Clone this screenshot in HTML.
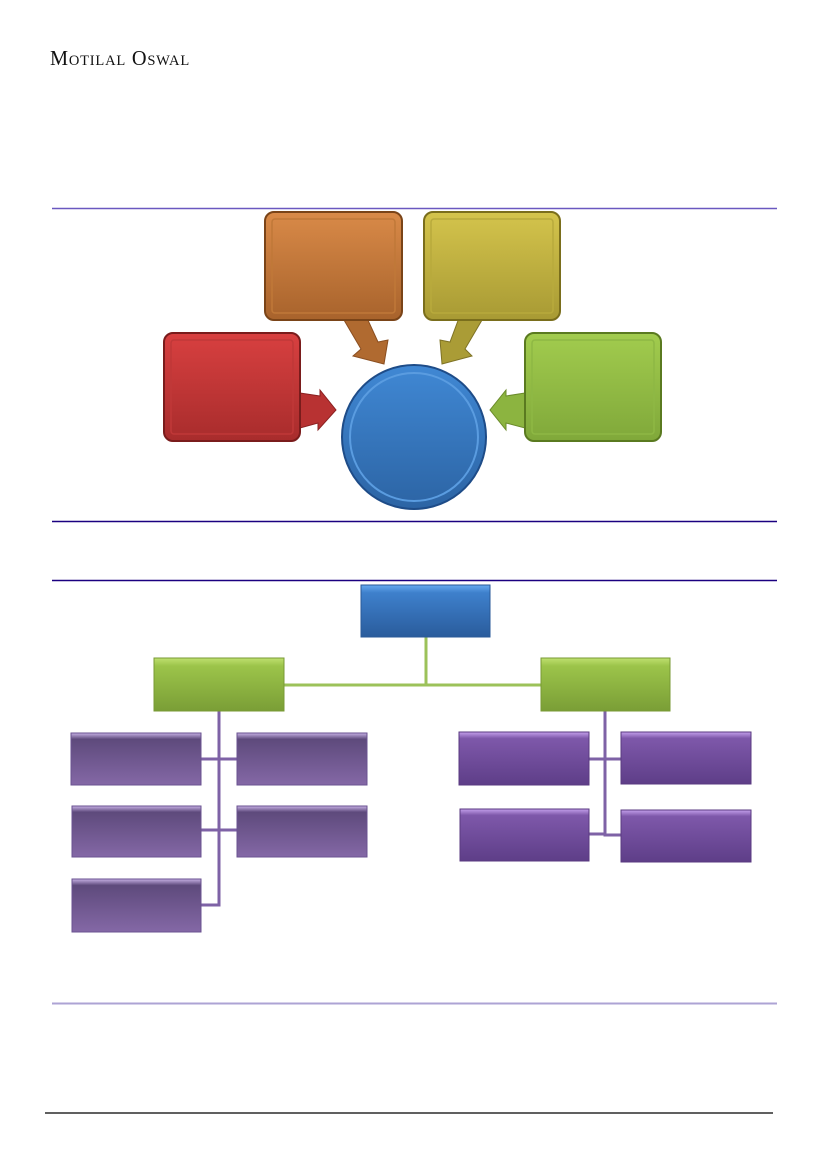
<!DOCTYPE html>
<html><head><meta charset="utf-8"><style>
html,body{margin:0;padding:0;background:#fff;}
svg{display:block;}
</style></head><body>
<svg width="827" height="1169" viewBox="0 0 827 1169" xmlns="http://www.w3.org/2000/svg">
<defs>
<linearGradient id="gO" x1="0" y1="0" x2="0" y2="1"><stop offset="0" stop-color="#d98a48"/><stop offset="1" stop-color="#a8632c"/></linearGradient>
<linearGradient id="gY" x1="0" y1="0" x2="0" y2="1"><stop offset="0" stop-color="#d4c44c"/><stop offset="1" stop-color="#a89a34"/></linearGradient>
<linearGradient id="gR" x1="0" y1="0" x2="0" y2="1"><stop offset="0" stop-color="#d84040"/><stop offset="1" stop-color="#a82c2c"/></linearGradient>
<linearGradient id="gG" x1="0" y1="0" x2="0" y2="1"><stop offset="0" stop-color="#a2cc4e"/><stop offset="1" stop-color="#80a83a"/></linearGradient>
<linearGradient id="gB" x1="0" y1="0" x2="0" y2="1"><stop offset="0" stop-color="#4088d4"/><stop offset="1" stop-color="#2c64a4"/></linearGradient>
<linearGradient id="gB2" x1="0" y1="0" x2="0" y2="1"><stop offset="0" stop-color="#66aaf0"/><stop offset="0.15" stop-color="#3e80cc"/><stop offset="1" stop-color="#2a5c9c"/></linearGradient>
<linearGradient id="gG2" x1="0" y1="0" x2="0" y2="1"><stop offset="0" stop-color="#c0e070"/><stop offset="0.15" stop-color="#9cc44a"/><stop offset="1" stop-color="#7a9e36"/></linearGradient>
<linearGradient id="gPL" x1="0" y1="0" x2="0" y2="1"><stop offset="0" stop-color="#c8b2e6"/><stop offset="0.12" stop-color="#5e4a7c"/><stop offset="1" stop-color="#8468a6"/></linearGradient>
<linearGradient id="gPR" x1="0" y1="0" x2="0" y2="1"><stop offset="0" stop-color="#c4a0ec"/><stop offset="0.12" stop-color="#7e58aa"/><stop offset="1" stop-color="#5e3e88"/></linearGradient>
</defs>

<text x="50" y="65" font-family="Liberation Serif, serif" font-size="21" fill="#111" letter-spacing="0.8" textLength="140" lengthAdjust="spacingAndGlyphs">M<tspan font-size="15">OTILAL</tspan> O<tspan font-size="15">SWAL</tspan></text>

<line x1="52" y1="208.5" x2="777" y2="208.5" stroke="#6a58c0" stroke-width="1.5"/>
<line x1="52" y1="521.5" x2="777" y2="521.5" stroke="#1a0080" stroke-width="1.5"/>
<line x1="52" y1="580.5" x2="777" y2="580.5" stroke="#1a0080" stroke-width="1.5"/>
<line x1="52" y1="1003.5" x2="777" y2="1003.5" stroke="#ada3d4" stroke-width="2"/>
<line x1="45" y1="1113" x2="773" y2="1113" stroke="#000" stroke-width="1.2"/>

<!-- arrows -->
<polygon points="344,320 367,318 378,342 388,340 384,364 353,356 361,349" fill="#b06a30" stroke="#8a4e20"/>
<polygon points="482,320 459,318 450,342 440,340 442,364 472,356 465,349" fill="#aa9c36" stroke="#7e7224"/>
<polygon points="300,393 320,396 320,390 336,410 318,430 318,423 300,428" fill="#b83232" stroke="#8a2020"/>
<polygon points="525,393 506,396 506,390 490,410 506,430 506,423 525,428" fill="#8cb440" stroke="#6a8a2a"/>

<!-- boxes -->
<g stroke-width="2">
<rect x="265" y="212" width="137" height="108" rx="9" fill="url(#gO)" stroke="#7a4418"/>
<rect x="272" y="219" width="123" height="94" rx="3" fill="none" stroke="#c07838" stroke-width="1.5"/>
<rect x="424" y="212" width="136" height="108" rx="9" fill="url(#gY)" stroke="#7a6e1c"/>
<rect x="431" y="219" width="122" height="94" rx="3" fill="none" stroke="#b8aa3c" stroke-width="1.5"/>
<rect x="164" y="333" width="136" height="108" rx="9" fill="url(#gR)" stroke="#7a1c1c"/>
<rect x="171" y="340" width="122" height="94" rx="3" fill="none" stroke="#c03838" stroke-width="1.5"/>
<rect x="525" y="333" width="136" height="108" rx="9" fill="url(#gG)" stroke="#5a7a20"/>
<rect x="532" y="340" width="122" height="94" rx="3" fill="none" stroke="#8eb844" stroke-width="1.5"/>
</g>
<circle cx="414" cy="437" r="72" fill="url(#gB)" stroke="#1e4c88" stroke-width="2"/>
<circle cx="414" cy="437" r="64" fill="none" stroke="#5a9ce0" stroke-width="2"/>

<!-- org chart lines -->
<g stroke="#9cc25a" stroke-width="3" fill="none">
<line x1="426" y1="637" x2="426" y2="685"/>
<line x1="284" y1="685" x2="541" y2="685"/>
</g>
<g stroke="#7e62a6" stroke-width="3" fill="none">
<polyline points="219,711 219,905 201,905"/>
<line x1="201" y1="759" x2="237" y2="759"/>
<line x1="201" y1="830" x2="237" y2="830"/>
<polyline points="605,711 605,835 621,835"/>
<line x1="589" y1="759" x2="621" y2="759"/>
<line x1="589" y1="834" x2="605" y2="834"/>
</g>

<!-- org boxes -->
<rect x="361" y="585" width="129" height="52" fill="url(#gB2)" stroke="#2a5a98"/>
<rect x="154" y="658" width="130" height="53" fill="url(#gG2)" stroke="#789a34"/>
<rect x="541" y="658" width="129" height="53" fill="url(#gG2)" stroke="#789a34"/>
<g stroke="#6a5290">
<rect x="71" y="733" width="130" height="52" fill="url(#gPL)"/>
<rect x="237" y="733" width="130" height="52" fill="url(#gPL)"/>
<rect x="72" y="806" width="129" height="51" fill="url(#gPL)"/>
<rect x="237" y="806" width="130" height="51" fill="url(#gPL)"/>
<rect x="72" y="879" width="129" height="53" fill="url(#gPL)"/>
</g>
<g stroke="#5a3a80">
<rect x="459" y="732" width="130" height="53" fill="url(#gPR)"/>
<rect x="621" y="732" width="130" height="52" fill="url(#gPR)"/>
<rect x="460" y="809" width="129" height="52" fill="url(#gPR)"/>
<rect x="621" y="810" width="130" height="52" fill="url(#gPR)"/>
</g>
</svg>
</body></html>
